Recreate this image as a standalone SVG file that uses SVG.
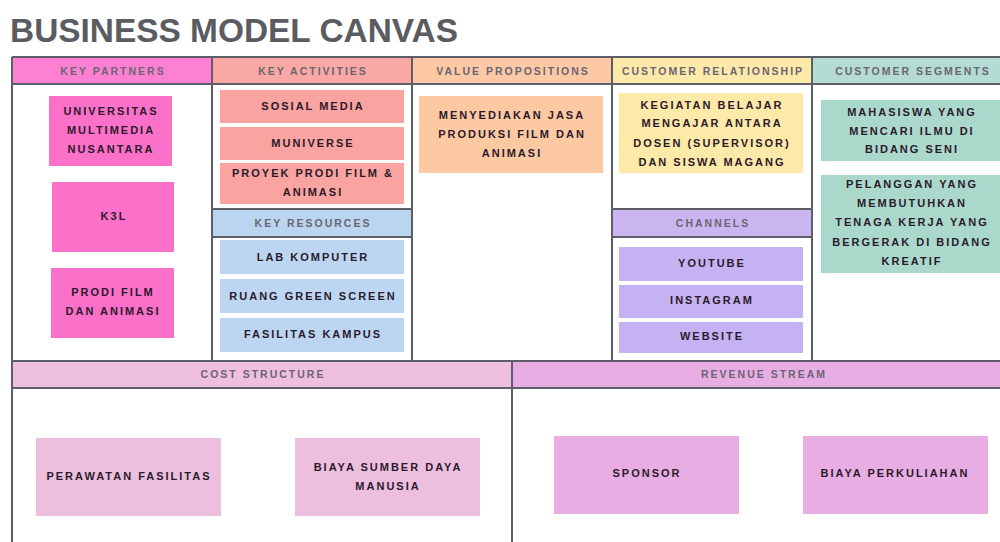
<svg xmlns="http://www.w3.org/2000/svg" width="1000" height="542" viewBox="0 0 1000 542">
<style>
.t{font-family:"Liberation Sans",Arial,sans-serif;font-weight:bold;font-size:11px;letter-spacing:2px;fill:#2b1a2b;text-anchor:middle}
.h{font-family:"Liberation Sans",Arial,sans-serif;font-weight:bold;font-size:10.5px;letter-spacing:2px;fill:#6b6472;text-anchor:middle}
.ln{stroke:#5e5e68;stroke-width:2;fill:none}
</style>
<rect width="1000" height="542" fill="#ffffff"/>
<text x="10" y="42" font-family="'Liberation Sans',Arial,sans-serif" font-weight="bold" font-size="34" fill="#5b5b62" textLength="448" lengthAdjust="spacingAndGlyphs">BUSINESS MODEL CANVAS</text>

<!-- header fills -->
<rect x="12" y="57" width="200" height="27" fill="#fe80d2"/>
<rect x="212" y="57" width="200" height="27" fill="#f9a8a4"/>
<rect x="412" y="57" width="200" height="27" fill="#fcc9a4"/>
<rect x="612" y="57" width="200" height="27" fill="#fde9a9"/>
<rect x="812" y="57" width="190" height="27" fill="#b5dcd2"/>
<rect x="212" y="209" width="200" height="28" fill="#bad5f0"/>
<rect x="612" y="209" width="200" height="28" fill="#c9b6f1"/>
<rect x="12" y="361" width="500" height="27" fill="#eebfdf"/>
<rect x="512" y="361" width="490" height="27" fill="#e8aee3"/>

<g id="connectors">
<path class="ln" d="M12 57H1002M12 84H1002M12 57V542M212 57V361M412 57V361M612 57V361M812 57V361M12 361H1002M12 388H1002M512 361V542M212 209H412M212 237H412M612 209H812M612 237H812"/>
</g>

<g id="headers">
<text class="h" x="113" y="75">KEY PARTNERS</text>
<text class="h" x="313" y="75">KEY ACTIVITIES</text>
<text class="h" x="513" y="75">VALUE PROPOSITIONS</text>
<text class="h" x="713" y="75">CUSTOMER RELATIONSHIP</text>
<text class="h" x="913" y="75">CUSTOMER SEGMENTS</text>
<text class="h" x="313" y="227">KEY RESOURCES</text>
<text class="h" x="713" y="227">CHANNELS</text>
<text class="h" x="263" y="378">COST STRUCTURE</text>
<text class="h" x="764" y="378">REVENUE STREAM</text>
</g>

<g id="kp1"><rect x="49" y="96" width="123" height="70" fill="#fb70c8"/>
<text class="t" x="111" y="115">UNIVERSITAS</text><text class="t" x="111" y="134">MULTIMEDIA</text><text class="t" x="111" y="153">NUSANTARA</text></g>
<g id="kp2"><rect x="52" y="182" width="122" height="70" fill="#fb70c8"/>
<text class="t" x="114" y="220">K3L</text></g>
<g id="kp3"><rect x="51" y="268" width="123" height="70" fill="#fb70c8"/>
<text class="t" x="113" y="296">PRODI FILM</text><text class="t" x="113" y="315">DAN ANIMASI</text></g>

<g id="ka1"><rect x="220" y="90" width="184" height="33" fill="#faa4a1"/><text class="t" x="313" y="110">SOSIAL MEDIA</text></g>
<g id="ka2"><rect x="220" y="127" width="184" height="33" fill="#faa4a1"/><text class="t" x="313" y="147">MUNIVERSE</text></g>
<g id="ka3"><rect x="220" y="163" width="184" height="41" fill="#faa4a1"/><text class="t" x="313" y="177">PROYEK PRODI FILM &amp;</text><text class="t" x="313" y="196">ANIMASI</text></g>

<g id="kr1"><rect x="220" y="240" width="184" height="34" fill="#bcd6f2"/><text class="t" x="313" y="261">LAB KOMPUTER</text></g>
<g id="kr2"><rect x="220" y="279" width="184" height="34" fill="#bcd6f2"/><text class="t" x="313" y="300">RUANG GREEN SCREEN</text></g>
<g id="kr3"><rect x="220" y="318" width="184" height="34" fill="#bcd6f2"/><text class="t" x="313" y="338">FASILITAS KAMPUS</text></g>

<g id="vp1"><rect x="419" y="96" width="184" height="77" fill="#fcc9a3"/>
<text class="t" x="512" y="119">MENYEDIAKAN JASA</text><text class="t" x="512" y="138">PRODUKSI FILM DAN</text><text class="t" x="512" y="157">ANIMASI</text></g>

<g id="cr1"><rect x="619" y="93" width="184" height="80" fill="#fde9a8"/>
<text class="t" x="712" y="109">KEGIATAN BELAJAR</text><text class="t" x="712" y="127">MENGAJAR ANTARA</text><text class="t" x="712" y="147">DOSEN (SUPERVISOR)</text><text class="t" x="712" y="166">DAN SISWA MAGANG</text></g>

<g id="ch1"><rect x="619" y="247" width="184" height="34" fill="#c5b2f2"/><text class="t" x="712" y="267">YOUTUBE</text></g>
<g id="ch2"><rect x="619" y="285" width="184" height="33" fill="#c5b2f2"/><text class="t" x="712" y="304">INSTAGRAM</text></g>
<g id="ch3"><rect x="619" y="322" width="184" height="31" fill="#c5b2f2"/><text class="t" x="712" y="340">WEBSITE</text></g>

<g id="cs1"><rect x="821" y="100" width="181" height="61" fill="#aad9cb"/>
<text class="t" x="912" y="116">MAHASISWA YANG</text><text class="t" x="912" y="135">MENCARI ILMU DI</text><text class="t" x="912" y="153">BIDANG SENI</text></g>
<g id="cs2"><rect x="821" y="175" width="181" height="98" fill="#aad9cb"/>
<text class="t" x="912" y="188">PELANGGAN YANG</text><text class="t" x="912" y="207">MEMBUTUHKAN</text><text class="t" x="912" y="226">TENAGA KERJA YANG</text><text class="t" x="912" y="246">BERGERAK DI BIDANG</text><text class="t" x="912" y="265">KREATIF</text></g>

<g id="cost1"><rect x="36" y="438" width="185" height="78" fill="#ecbfdf"/><text class="t" x="129" y="480">PERAWATAN FASILITAS</text></g>
<g id="cost2"><rect x="295" y="438" width="185" height="78" fill="#ecbfdf"/><text class="t" x="388" y="471">BIAYA SUMBER DAYA</text><text class="t" x="388" y="490">MANUSIA</text></g>

<g id="rev1"><rect x="554" y="436" width="185" height="78" fill="#e8aee3"/><text class="t" x="647" y="477">SPONSOR</text></g>
<g id="rev2"><rect x="803" y="436" width="185" height="78" fill="#e8aee3"/><text class="t" x="895" y="477">BIAYA PERKULIAHAN</text></g>
</svg>
